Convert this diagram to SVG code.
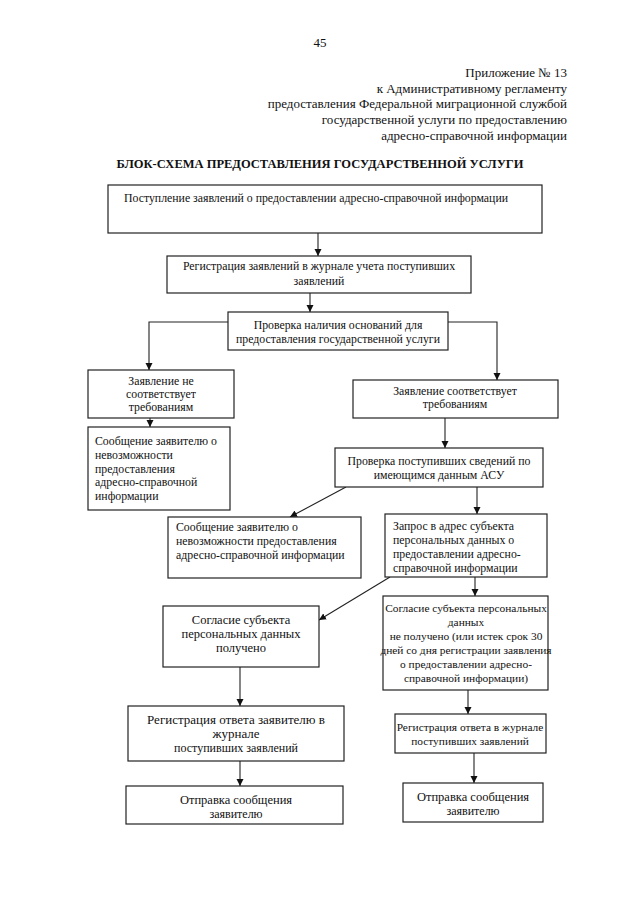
<svg xmlns="http://www.w3.org/2000/svg" width="640" height="905" viewBox="0 0 640 905">
<defs>
<marker id="ah" markerWidth="8" markerHeight="8" refX="7" refY="3.5" orient="auto" markerUnits="userSpaceOnUse">
<path d="M0,0 L7,3.5 L0,7 z" fill="#111"/>
</marker>
<style>
text{font-family:"Liberation Serif","Times New Roman",serif;fill:#111}
.hd{font-size:13px;text-anchor:end}
.t{font-size:11.8px}
.n{font-size:11.4px}
.c{text-anchor:middle}
.s{font-size:12px}
.b{font-size:12.5px}
rect{fill:#fff;stroke:#222;stroke-width:1.2}
.cn path,.cn line{fill:none;stroke:#222;stroke-width:1.1}
</style>
</defs>
<rect x="0" y="0" width="640" height="905" style="fill:#fff;stroke:none"/>
<text x="320" y="47" class="c" style="font-size:13px">45</text>
<text x="567" y="77" class="hd">Приложение № 13</text>
<text x="567" y="93" class="hd">к Административному регламенту</text>
<text x="567" y="108" class="hd">предоставления Федеральной миграционной службой</text>
<text x="567" y="124" class="hd">государственной услуги по предоставлению</text>
<text x="567" y="140" class="hd">адресно-справочной информации</text>
<text x="320" y="168" class="c" style="font-size:12.5px;font-weight:bold">БЛОК-СХЕМА ПРЕДОСТАВЛЕНИЯ ГОСУДАРСТВЕННОЙ УСЛУГИ</text>

<g class="cn">
<line x1="318" y1="233" x2="318" y2="256" marker-end="url(#ah)"/>
<line x1="310" y1="293" x2="310" y2="312" marker-end="url(#ah)"/>
<path d="M228,322 H149 V370" marker-end="url(#ah)"/>
<path d="M448,322 H497 V380" marker-end="url(#ah)"/>
<line x1="150" y1="418" x2="150" y2="427" marker-end="url(#ah)"/>
<line x1="445" y1="418" x2="445" y2="448" marker-end="url(#ah)"/>
<line x1="346" y1="487" x2="290" y2="517" marker-end="url(#ah)"/>
<line x1="477" y1="487" x2="477" y2="514" marker-end="url(#ah)"/>
<line x1="390" y1="577" x2="319" y2="620" marker-end="url(#ah)"/>
<line x1="475" y1="577" x2="475" y2="596" marker-end="url(#ah)"/>
<line x1="240" y1="667" x2="240" y2="706" marker-end="url(#ah)"/>
<line x1="468" y1="690" x2="468" y2="714" marker-end="url(#ah)"/>
<line x1="240" y1="761" x2="240" y2="786" marker-end="url(#ah)"/>
<line x1="474" y1="753" x2="474" y2="783" marker-end="url(#ah)"/>
</g>

<g id="n1">
<rect x="108" y="185" width="434" height="48"/>
<text x="316" y="202" class="t c">Поступление заявлений о предоставлении адресно-справочной информации</text>
</g>
<g id="n2">
<rect x="167" y="256" width="304" height="37"/>
<text x="319" y="270" class="t c">Регистрация заявлений в журнале учета поступивших</text>
<text x="319" y="285" class="t c">заявлений</text>
</g>
<g id="n3">
<rect x="228" y="312" width="220" height="38"/>
<text x="338" y="329" class="t c">Проверка наличия оснований для</text>
<text x="338" y="343" class="t c">предоставления государственной услуги</text>
</g>
<g id="n4">
<rect x="88" y="370" width="146" height="48"/>
<text x="161" y="385" class="t c">Заявление не</text>
<text x="161" y="398" class="t c">соответствует</text>
<text x="161" y="411" class="t c">требованиям</text>
</g>
<g id="n5">
<rect x="353" y="380" width="205" height="38"/>
<text x="455" y="395" class="t c">Заявление соответствует</text>
<text x="455" y="408" class="t c">требованиям</text>
</g>
<g id="n6">
<rect x="88" y="427" width="142" height="83"/>
<text x="95" y="445" class="t">Сообщение заявителю о</text>
<text x="95" y="459" class="t">невозможности</text>
<text x="95" y="473" class="t">предоставления</text>
<text x="95" y="486" class="t">адресно-справочной</text>
<text x="95" y="500" class="t">информации</text>
</g>
<g id="n7">
<rect x="335" y="448" width="208" height="39"/>
<text x="439" y="465" class="t c">Проверка поступивших сведений по</text>
<text x="439" y="479" class="t c">имеющимся данным АСУ</text>
</g>
<g id="n8">
<rect x="168" y="517" width="193" height="61"/>
<text x="176" y="531" class="t">Сообщение заявителю о</text>
<text x="176" y="545" class="t">невозможности предоставления</text>
<text x="176" y="559" class="t">адресно-справочной информации</text>
</g>
<g id="n9">
<rect x="385" y="514" width="162" height="63"/>
<text x="393" y="530" class="t">Запрос в адрес субъекта</text>
<text x="393" y="544" class="t">персональных данных о</text>
<text x="393" y="558" class="t">предоставлении адресно-</text>
<text x="393" y="572" class="t">справочной информации</text>
</g>
<g id="n10">
<rect x="163" y="606" width="156" height="61"/>
<text x="241" y="624" class="b c">Согласие субъекта</text>
<text x="241" y="638" class="b c">персональных данных</text>
<text x="241" y="652" class="b c">получено</text>
</g>
<g id="n11">
<rect x="383" y="596" width="165" height="94"/>
<text x="466" y="612" class="n c">Согласие субъекта персональных</text>
<text x="466" y="626" class="n c">данных</text>
<text x="466" y="640" class="n c">не получено (или истек срок 30</text>
<text x="466" y="654" class="n c">дней со дня регистрации заявления</text>
<text x="466" y="668" class="n c">о предоставлении адресно-</text>
<text x="466" y="682" class="n c">справочной информации)</text>
</g>
<g id="n12">
<rect x="128" y="706" width="216" height="55"/>
<text x="236" y="724" class="c" style="font-size:13px">Регистрация ответа заявителю в</text>
<text x="236" y="738" class="c" style="font-size:13px">журнале</text>
<text x="236" y="752" class="s c">поступивших заявлений</text>
</g>
<g id="n13">
<rect x="395" y="714" width="151" height="39"/>
<text x="470" y="731" class="n c">Регистрация ответа в журнале</text>
<text x="470" y="745" class="n c">поступивших заявлений</text>
</g>
<g id="n14">
<rect x="126" y="786" width="217" height="38"/>
<text x="236" y="804" class="b c">Отправка сообщения</text>
<text x="236" y="818" class="s c">заявителю</text>
</g>
<g id="n15">
<rect x="403" y="783" width="140" height="39"/>
<text x="473" y="801" class="b c">Отправка сообщения</text>
<text x="473" y="815" class="s c">заявителю</text>
</g>
</svg>
